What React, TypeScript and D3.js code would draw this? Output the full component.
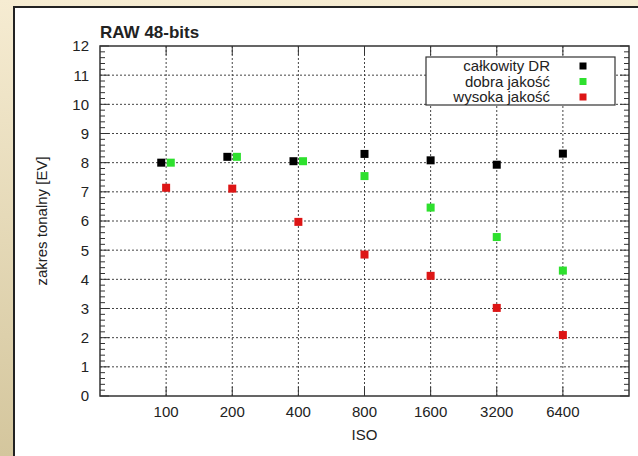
import React, { useEffect, useRef } from 'react';
import * as d3 from 'd3';

const isoTicks = [100, 200, 400, 800, 1600, 3200, 6400];
const yTicks = [0, 1, 2, 3, 4, 5, 6, 7, 8, 9, 10, 11, 12];

// per-series ISO positions (first three points are nudged apart in the original)
const totalIso = [95, 190, 380, 800, 1600, 3200, 6400];
const totalDR = [8.0, 8.2, 8.05, 8.3, 8.08, 7.93, 8.31];
const goodIso = [105, 210, 420, 800, 1600, 3200, 6400];
const goodDR = [8.0, 8.2, 8.05, 7.54, 6.46, 5.45, 4.3];
const highIso = [100, 200, 400, 800, 1600, 3200, 6400];
const highDR = [7.14, 7.11, 5.97, 4.85, 4.12, 3.02, 2.09];

const seriesLabels = ['całkowity DR', 'dobra jakość', 'wysoka jakość'];
const seriesColors = ['#000000', '#2ee02e', '#dd1515'];

export default function App() {
    const ref = useRef(null);

    useEffect(() => {
        if (!ref.current) return;
        d3.select(ref.current).selectAll('*').remove();

        const W = 638, H = 456;
        const margin = { top: 46, right: 9, bottom: 60, left: 100 };
        const width = W - margin.left - margin.right;
        const height = H - margin.top - margin.bottom;
        const font = '"Liberation Sans", Arial, Helvetica, sans-serif';

        const svg = d3.select(ref.current)
            .append('svg')
            .attr('width', W)
            .attr('height', H)
            .style('display', 'block');

        // beige frame
        const defs = svg.append('defs');
        const grad = defs.append('linearGradient')
            .attr('id', 'frame').attr('x1', 0).attr('y1', 0).attr('x2', 0).attr('y2', 1);
        grad.append('stop').attr('offset', '0%').attr('stop-color', '#f6ecd2');
        grad.append('stop').attr('offset', '100%').attr('stop-color', '#d4c69d');
        svg.append('rect').attr('width', W).attr('height', H).attr('fill', 'url(#frame)');
        svg.append('rect')
            .attr('x', 14).attr('y', 7)
            .attr('width', W).attr('height', H)
            .attr('fill', '#fff')
            .attr('stroke', '#222')
            .attr('stroke-width', 2);

        const x = d3.scaleLog().base(2).domain([50, 12800]).range([0, width]);
        const y = d3.scaleLinear().domain([0, 12]).range([height, 0]);

        const g = svg.append('g').attr('transform', `translate(${margin.left},${margin.top})`);

        // grid
        g.selectAll('.gy').data(yTicks.slice(1, -1)).enter().append('line')
            .attr('x1', 0).attr('x2', width)
            .attr('y1', d => y(d)).attr('y2', d => y(d))
            .attr('stroke', '#444').attr('stroke-width', 1).attr('stroke-dasharray', '2,2');
        g.selectAll('.gx').data(isoTicks).enter().append('line')
            .attr('x1', d => x(d)).attr('x2', d => x(d))
            .attr('y1', 0).attr('y2', height)
            .attr('stroke', '#444').attr('stroke-width', 1).attr('stroke-dasharray', '2,2');

        // ticks (inside, mirrored)
        const minor = d3.range(0, 12.001, 0.2).filter(v => Math.abs(v - Math.round(v)) > 0.01);
        const tickG = g.append('g').attr('stroke', '#333').attr('stroke-width', 1);
        [[0, 1], [width, -1]].forEach(([x0, dir]) => {
            yTicks.forEach(v => tickG.append('line')
                .attr('x1', x0).attr('x2', x0 + dir * 9).attr('y1', y(v)).attr('y2', y(v)));
            minor.forEach(v => tickG.append('line')
                .attr('x1', x0).attr('x2', x0 + dir * 5).attr('y1', y(v)).attr('y2', y(v)));
        });
        [[height, -1], [0, 1]].forEach(([y0, dir]) => {
            isoTicks.forEach(v => tickG.append('line')
                .attr('x1', x(v)).attr('x2', x(v)).attr('y1', y0).attr('y2', y0 + dir * 9));
        });

        g.append('rect')
            .attr('width', width).attr('height', height)
            .attr('fill', 'none').attr('stroke', '#333').attr('stroke-width', 1.5);

        // tick labels
        g.selectAll('.yl').data(yTicks).enter().append('text')
            .attr('x', -11).attr('y', d => y(d)).attr('dy', '0.36em')
            .attr('text-anchor', 'end')
            .style('font-family', font).style('font-size', '15px').style('fill', '#222')
            .text(d => d);
        g.selectAll('.xl').data(isoTicks).enter().append('text')
            .attr('x', d => x(d)).attr('y', height + 21)
            .attr('text-anchor', 'middle')
            .style('font-family', font).style('font-size', '15px').style('fill', '#222')
            .text(d => d);

        // axis titles
        g.append('text')
            .attr('x', x(800)).attr('y', height + 44)
            .attr('text-anchor', 'middle')
            .style('font-family', font).style('font-size', '15px').style('fill', '#222')
            .text('ISO');
        g.append('text')
            .attr('transform', `translate(${42 - margin.left + 5},${height / 2}) rotate(-90)`)
            .attr('text-anchor', 'middle')
            .style('font-family', font).style('font-size', '15px').style('fill', '#222')
            .text('zakres tonalny [EV]');
        g.append('text')
            .attr('x', 0).attr('y', -8)
            .style('font-family', font).style('font-size', '17px').style('font-weight', 'bold')
            .style('fill', '#222')
            .text('RAW 48-bits');

        // points
        const series = [
            { iso: totalIso, dr: totalDR },
            { iso: goodIso, dr: goodDR },
            { iso: highIso, dr: highDR },
        ];
        const s = 8;
        series.forEach((ser, i) => {
            g.selectAll(`.p${i}`).data(ser.dr).enter().append('rect')
                .attr('x', (d, j) => x(ser.iso[j]) - s / 2)
                .attr('y', d => y(d) - s / 2)
                .attr('width', s).attr('height', s)
                .attr('fill', seriesColors[i]);
        });

        // legend
        const lx = 426 - margin.left, ly = 57 - margin.top;
        g.append('rect')
            .attr('x', lx).attr('y', ly).attr('width', 189).attr('height', 48)
            .attr('fill', '#fff').attr('stroke', '#333').attr('stroke-width', 1.2);
        seriesLabels.forEach((lab, i) => {
            const cy = ly + 9 + i * 15.5;
            g.append('text')
                .attr('x', lx + 124).attr('y', cy).attr('dy', '0.36em')
                .attr('text-anchor', 'end')
                .style('font-family', font).style('font-size', '15px').style('fill', '#222')
                .text(lab);
            g.append('rect')
                .attr('x', lx + 157 - 3.5).attr('y', cy - 3.5)
                .attr('width', 7).attr('height', 7)
                .attr('fill', seriesColors[i]);
        });
    }, []);

    return <div ref={ref} style={{ position: 'absolute', left: 0, top: 0 }}></div>;
}
